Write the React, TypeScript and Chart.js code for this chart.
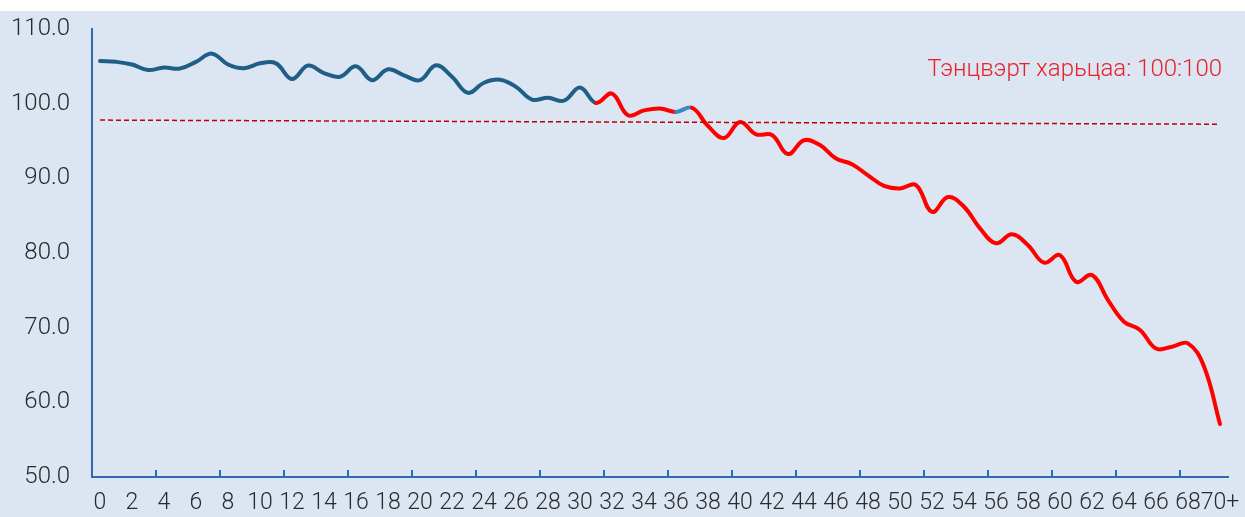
import React, { useEffect, useRef } from "react";
import { Chart, registerables } from "chart.js";

Chart.register(...registerables);

const categories: string[] = [
  "0", "1", "2", "3", "4", "5", "6", "7", "8", "9",
  "10", "11", "12", "13", "14", "15", "16", "17", "18", "19",
  "20", "21", "22", "23", "24", "25", "26", "27", "28", "29",
  "30", "31", "32", "33", "34", "35", "36", "37", "38", "39",
  "40", "41", "42", "43", "44", "45", "46", "47", "48", "49",
  "50", "51", "52", "53", "54", "55", "56", "57", "58", "59",
  "60", "61", "62", "63", "64", "65", "66", "67", "68", "69",
  "70+",
];

const sexRatio: number[] = [
  105.7, 105.6, 105.25, 104.5, 104.85, 104.7, 105.6, 106.7, 105.25, 104.75,
  105.4, 105.4, 103.3, 105.1, 104.1, 103.6, 105.0, 103.15, 104.6, 103.8,
  103.15, 105.15, 103.6, 101.45, 102.8, 103.2, 102.25, 100.55, 100.8, 100.4,
  102.15, 100.1, 101.35, 98.45, 99.1, 99.35, 98.9, 99.45, 97.0, 95.4,
  97.55, 95.9, 95.8, 93.25, 95.1, 94.45, 92.65, 91.9, 90.4, 89.0,
  88.65, 89.1, 85.5, 87.5, 86.2, 83.3, 81.3, 82.5, 81.05, 78.7,
  79.7, 76.15, 77.05, 73.7, 70.8, 69.7, 67.2, 67.45, 67.9, 64.8,
  57.1,
];

// reference (balance) line end values
const balanceStart = 97.8;
const balanceEnd = 97.25;
const balanceLabel = "Тэнцвэрт харьцаа: 100:100";

// segment colour groups (by starting index of segment)
const redFromIndex = 31;
const lightBlueIndices = [36];

const yMin = 50;
const yMax = 110;
const yStep = 10;

const DARK_BLUE = "#1F5F87";
const LIGHT_BLUE = "#3A8AC4";
const RED = "#FF0000";
const AXIS_BLUE = "#2E6BB2";
const BG = "#DCE6F2";
const TEXT = "#2A2A2A";

const decorPlugin = {
  id: "decor",
  afterDraw(chart: any) {
    const ctx = chart.ctx;
    const x = chart.scales.x;
    const y = chart.scales.y;
    ctx.save();
    ctx.strokeStyle = AXIS_BLUE;
    ctx.lineWidth = 2;
    for (let i = 3; i < categories.length - 1; i += 4) {
      const px = (x.getPixelForValue(i) + x.getPixelForValue(i + 1)) / 2;
      ctx.beginPath();
      ctx.moveTo(px, chart.chartArea.bottom);
      ctx.lineTo(px, chart.chartArea.bottom - 7);
      ctx.stroke();
    }
    ctx.font = "300 24px Roboto";
    ctx.fillStyle = "#E8202A";
    ctx.textAlign = "right";
    ctx.textBaseline = "alphabetic";
    ctx.fillText(balanceLabel, chart.chartArea.right - 6, y.getPixelForValue(103.7));
    ctx.restore();
  },
};

export default function App() {
  const canvasRef = useRef<HTMLCanvasElement | null>(null);

  useEffect(() => {
    document.body.style.margin = "0";
    const balanceData = categories.map((_, i) =>
      i === 0 ? balanceStart : i === categories.length - 1 ? balanceEnd : null
    );
    const chart = new Chart(canvasRef.current as HTMLCanvasElement, {
      type: "line",
      data: {
        labels: categories,
        datasets: [
          {
            label: "balance",
            data: balanceData as any,
            spanGaps: true,
            borderColor: "#C00000",
            borderWidth: 1.5,
            borderDash: [5, 3],
            pointRadius: 0,
            tension: 0,
            fill: false,
          },
          {
            label: "ratio",
            data: sexRatio,
            borderColor: DARK_BLUE,
            borderWidth: 4,
            pointRadius: 0,
            tension: 0.4,
            fill: false,
            borderCapStyle: "round",
            borderJoinStyle: "round",
            segment: {
              borderColor: (c: any) => {
                const i = c.p0DataIndex;
                if (lightBlueIndices.includes(i)) return LIGHT_BLUE;
                if (i >= redFromIndex) return RED;
                return DARK_BLUE;
              },
            },
          },
        ],
      },
      options: {
        animation: false,
        responsive: true,
        maintainAspectRatio: false,
        layout: { autoPadding: false, padding: { top: 18, right: 17, left: 0, bottom: 0 } },
        plugins: {
          legend: { display: false },
          tooltip: { enabled: false },
        },
        scales: {
          x: {
            type: "category",
            offset: true,
            afterFit: (s: any) => {
              s.height = 40;
              s.paddingLeft = 0;
              s.paddingRight = 0;
            },
            grid: { display: false, drawTicks: false },
            border: { display: true, color: AXIS_BLUE, width: 2 },
            ticks: {
              autoSkip: false,
              maxRotation: 0,
              minRotation: 0,
              padding: 12,
              color: TEXT,
              font: { family: "Roboto", size: 23, weight: "300" as any },
              callback: (_v: any, idx: number) => (idx % 2 === 0 ? categories[idx] : ""),
            },
          },
          y: {
            min: yMin,
            max: yMax,
            afterFit: (s: any) => {
              s.width = 92;
              s.paddingTop = 0;
              s.paddingBottom = 0;
            },
            grid: { display: false, drawTicks: false },
            border: { display: true, color: AXIS_BLUE, width: 2 },
            ticks: {
              stepSize: yStep,
              padding: 22,
              color: TEXT,
              font: { family: "Roboto", size: 24, weight: "300" as any },
              callback: (v: any) => Number(v).toFixed(1),
            },
          },
        },
      },
      plugins: [decorPlugin],
    });
    return () => chart.destroy();
  }, []);

  return (
    <div style={{ position: "absolute", left: 0, top: 0, width: 1245, height: 517, background: "#ffffff", overflow: "hidden" }}>
      <div style={{ position: "absolute", left: 0, top: 11, width: 1245, height: 506, background: BG }}>
        <canvas ref={canvasRef} />
      </div>
    </div>
  );
}
